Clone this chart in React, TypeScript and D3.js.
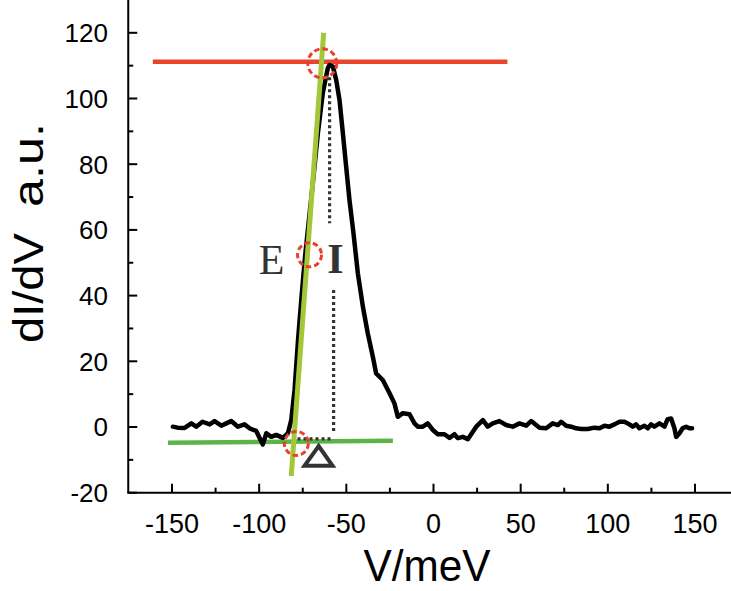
import React from 'react';
import * as d3 from 'd3';

const voltage = [
  -149.5, -146.8, -142.8, -138.9, -136.1, -132.5, -128.4, -125.6, -121.7, -118.9,
  -116.0, -112.2, -108.4, -105.5, -101.7, -97.9, -95.9, -93.1, -90.2, -86.4,
  -83.5, -81.6, -79.7, -77.7, -75.7, -73.7, -69.2, -66.3, -63.5, -60.6,
  -59.6, -57.7, -55.8, -53.9, -52.0, -50.1, -48.2, -45.9, -43.4, -40.5,
  -37.7, -34.8, -32.9, -29.1, -25.2, -22.4, -20.5, -17.6, -13.8, -10.9,
  -9.0, -6.1, -3.3, -0.4, 2.5, 6.3, 9.2, 12.0, 13.9, 16.8,
  19.7, 21.6, 24.5, 28.3, 31.1, 34.0, 37.8, 41.7, 45.5, 49.3,
  53.2, 56.0, 58.9, 60.8, 64.6, 68.4, 71.3, 73.2, 76.1, 79.0,
  81.8, 84.7, 88.5, 92.3, 95.2, 98.1, 100.9, 103.8, 106.7, 109.5,
  112.4, 114.3, 116.2, 118.1, 121.0, 122.9, 124.8, 126.7, 129.6, 132.5,
  134.3, 136.3, 138.2, 139.2, 141.1, 142.9, 144.9, 146.8, 148.3,
];

const didv = [
  0.1, -0.2, -0.3, 1.1, 0.1, 1.6, 0.8, 1.8, 0.4, 1.1,
  1.8, 0.1, 0.8, -0.4, -1.2, -5.3, -1.9, -3.0, -2.4, -3.3,
  -1.9, 2.1, 11.3, 26.5, 39.6, 51.8, 74.3, 89.5, 101.7, 109.3,
  110.2, 109.7, 105.6, 99.5, 89.5, 79.2, 69.1, 59.0, 46.8, 36.6,
  28.5, 21.4, 16.3, 14.3, 10.3, 7.2, 3.1, 4.2, 3.9, 1.1,
  0.1, 0.1, 1.1, -0.9, -2.2, -2.2, -3.3, -2.2, -3.4, -3.0,
  -3.7, -2.2, 0.1, 2.1, 0.1, 1.1, 1.8, 0.6, 0.1, 1.1,
  0.4, 1.8, 0.6, -0.2, -0.4, 1.1, 0.6, 1.6, 0.4, 0.1,
  -0.4, -0.6, -0.6, -0.2, -0.4, 0.4, 0.1, 0.8, 1.6, 1.6,
  0.8, 0.1, 0.8, -0.4, 0.4, -0.4, 0.8, 0.1, 1.1, 0.1,
  2.4, 2.6, -0.4, -3.0, -1.9, -0.4, 0.1, -0.4, -0.4,
];

const xTickLabels = [-150, -100, -50, 0, 50, 100, 150];
const xMinorTicks = [-125, -75, -25, 25, 75, 125];
const yTickLabels = [-20, 0, 20, 40, 60, 80, 100, 120];
const yMinorTicks = [-10, 10, 30, 50, 70, 90, 110];

// annotation geometry in data units
const peakLine = [[-161, 111.2], [42.4, 111.2]];
const slopeLine = [[-63, 120], [-81.6, -14.9]];
const baseLine = [[-152.3, -4.8], [-23.3, -4.2]];
const markCircles = [
  { v: -63.8, val: 110.7, r: 14.5 },
  { v: -71.1, val: 52.4, r: 12 },
  { v: -78.7, val: -5.0, r: 12 },
];
const dottedLines = [
  [[-59.6, 106.5], [-59.6, 62]],
  [[-57.3, 41.7], [-57.3, -2.0]],
  [[-78, -3.6], [-57.3, -3.6]],
];
const triangle = [[-65.9, -5.8], [-74.0, -11.8], [-57.9, -11.8]];
const labelE = { v: -92.9, val: 46.6, text: 'E' };
const labelI = { v: -56.2, val: 46.8, text: 'I' };

const W = 731;
const H = 591;

export default function App() {
  const x = d3.scaleLinear().domain([-150, 150]).range([172, 695]);
  const y = d3.scaleLinear().domain([-20, 120]).range([492.7, 32.8]);
  const axisX0 = x(-175.1);
  const axisXEnd = W;
  const axisYTop = 0;
  const axisYBottom = y(-20);

  const pts = voltage.map((v, i) => [v, didv[i]] as [number, number]);
  const line = d3
    .line<[number, number]>()
    .x((d) => x(d[0]))
    .y((d) => y(d[1]));
  const seg = (p: number[][]) => line(p as [number, number][]) || '';

  const font = "'Liberation Sans', Arial, sans-serif";

  return (
    <svg
      width={W}
      height={H}
      viewBox={`0 0 ${W} ${H}`}
      style={{ position: 'absolute', left: 0, top: 0, background: '#fff' }}
    >
      <rect x={0} y={0} width={W} height={H} fill="#fff" />

      {/* axes */}
      <line x1={axisX0} y1={axisYTop} x2={axisX0} y2={axisYBottom} stroke="#000" strokeWidth={2} />
      <line x1={axisX0 - 1} y1={axisYBottom} x2={axisXEnd} y2={axisYBottom} stroke="#000" strokeWidth={2} />

      {yTickLabels.map((t) => (
        <g key={'yt' + t}>
          <line x1={axisX0} x2={axisX0 + 9} y1={y(t)} y2={y(t)} stroke="#000" strokeWidth={2} />
          <text
            x={108}
            y={y(t)}
            dy="0.36em"
            textAnchor="end"
            fontFamily={font}
            fontSize={26}
            fill="#000"
          >
            {t}
          </text>
        </g>
      ))}
      {yMinorTicks.map((t) => (
        <line key={'ym' + t} x1={axisX0} x2={axisX0 + 5} y1={y(t)} y2={y(t)} stroke="#000" strokeWidth={2} />
      ))}
      {xTickLabels.map((t) => (
        <g key={'xt' + t}>
          <line x1={x(t)} x2={x(t)} y1={axisYBottom} y2={axisYBottom - 9} stroke="#000" strokeWidth={2} />
          <text
            x={x(t)}
            y={533}
            textAnchor="middle"
            fontFamily={font}
            fontSize={27}
            fill="#000"
          >
            {t}
          </text>
        </g>
      ))}
      {xMinorTicks.map((t) => (
        <line key={'xm' + t} x1={x(t)} x2={x(t)} y1={axisYBottom} y2={axisYBottom - 5} stroke="#000" strokeWidth={2} />
      ))}

      {/* axis titles */}
      <text
        x={427}
        y={581}
        textAnchor="middle"
        fontFamily={font}
        fontSize={44}
        textLength={127}
        lengthAdjust="spacingAndGlyphs"
        fill="#000"
      >
        V/meV
      </text>
      <text
        transform="translate(43,343) rotate(-90)"
        x={0}
        y={0}
        fontFamily={font}
        fontSize={42}
        textLength={110}
        lengthAdjust="spacingAndGlyphs"
        fill="#000"
      >
        dI/dV
      </text>
      <text
        transform="translate(43,207) rotate(-90)"
        x={0}
        y={0}
        fontFamily={font}
        fontSize={42}
        textLength={84}
        lengthAdjust="spacingAndGlyphs"
        fill="#000"
      >
        a.u.
      </text>

      {/* annotation lines */}
      <path d={seg(peakLine)} stroke="#e8452c" strokeWidth={4.5} fill="none" />
      <path d={seg(baseLine)} stroke="#5cb446" strokeWidth={4.5} fill="none" />

      {dottedLines.map((p, i) => (
        <path
          key={'dl' + i}
          d={seg(p)}
          stroke="#333"
          strokeWidth={3.2}
          strokeDasharray="3 3"
          fill="none"
        />
      ))}

      {/* data curve */}
      <path
        d={line(pts) || ''}
        stroke="#000"
        strokeWidth={4.5}
        fill="none"
        strokeLinejoin="round"
        strokeLinecap="round"
      />

      <path d={seg(slopeLine)} stroke="#a2c83a" strokeWidth={5} fill="none" />

      {markCircles.map((c, i) => (
        <circle
          key={'c' + i}
          cx={x(c.v)}
          cy={y(c.val)}
          r={c.r}
          fill="none"
          stroke="#e8402a"
          strokeWidth={3}
          strokeDasharray="5.5 3"
        />
      ))}

      <path
        d={seg(triangle) + 'Z'}
        stroke="#333"
        strokeWidth={4}
        fill="none"
        strokeLinejoin="miter"
      />

      <text
        x={x(labelE.v)}
        y={y(labelE.val)}
        textAnchor="middle"
        fontFamily="'Liberation Serif', 'Times New Roman', serif"
        fontSize={42}
        fill="#333"
      >
        {labelE.text}
      </text>
      <text
        x={x(labelI.v)}
        y={y(labelI.val)}
        textAnchor="middle"
        fontFamily="'Liberation Serif', 'Times New Roman', serif"
        fontWeight="bold"
        fontSize={42}
        fill="#333"
      >
        {labelI.text}
      </text>
    </svg>
  );
}
